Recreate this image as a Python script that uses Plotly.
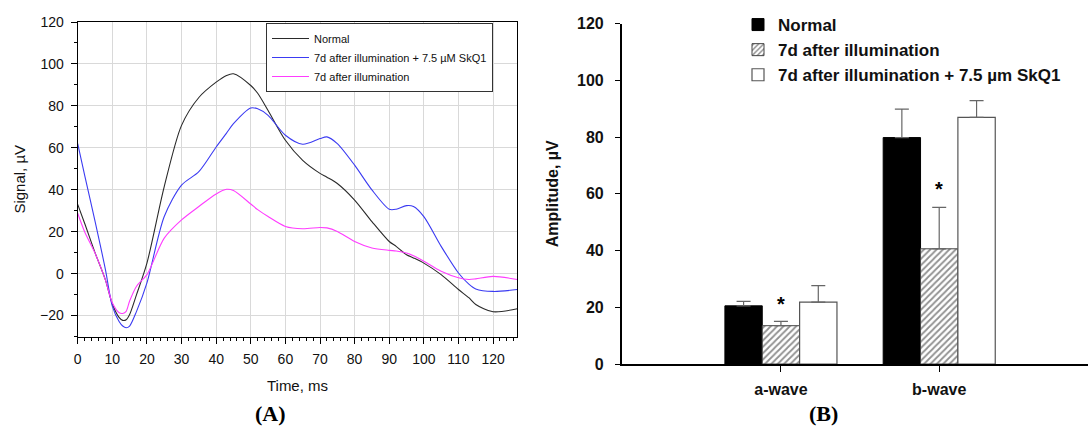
import plotly.graph_objects as go

# ---------------- Panel A data (ERG traces) ----------------
time_ms = [0, 2, 5, 8, 10, 12, 13, 14, 15, 17, 20, 25, 30, 35, 40, 43, 45, 50, 52, 55, 60, 65, 70, 72, 75,
           80, 85, 90, 92, 95, 97, 100, 105, 110, 113, 115, 120, 127]
normal_uv = [33, 24, 10, -3, -14.5, -21, -22.3, -22, -19.5, -10, 5, 41.5, 70.7, 84, 91.3, 94.5, 95.3, 89.7, 86,
             77.8, 63.6, 54, 47.8, 46, 43, 35.1, 24.8, 15.3, 13, 9, 7.5, 5, -0.5, -7.6, -11.5, -14.7, -18.2, -16.8]
skq1_uv = [62, 47, 25, 2, -15.5, -23, -25, -25.8, -25, -18, -4.4, 27.2, 42.2, 48.6, 60.4, 67, 71.5, 79, 78.6,
           75.5, 66, 61.7, 64.4, 65.2, 62, 51.7, 39.9, 30.7, 30.7, 32.4, 32, 27.2, 13, 0.3, -5, -7.3, -8.5, -7.6]
illum_uv = [28.8, 20, 9.8, -3, -13.9, -18.7, -19, -18, -13.1, -6, -0.5, 16.9, 25.6, 32, 38, 40.2, 39.6, 33.2,
            30.5, 27.2, 22.5, 21.4, 22, 21.8, 20.1, 15.3, 12.2, 11.1, 10.8, 9.8, 8.5, 5.9, 1.1, -2, -2.8, -2.5,
            -1.3, -2.8]
trace_names = ["Normal", "7d after illumination + 7.5 \u00b5M SkQ1", "7d after illumination"]

# ---------------- Panel B data (amplitudes) ----------------
wave_labels = ["a-wave", "b-wave"]
wave_pos = [0, 1]
normal_amp = [20.5, 79.8]
normal_err = [1.6, 10.0]
illum_amp = [13.5, 40.6]
illum_err = [1.5, 14.6]
skq1_amp = [21.8, 86.9]
skq1_err = [5.8, 5.9]
bar_names = ["Normal", "7d after illumination", "7d after illumination + 7.5 \u00b5m SkQ1"]
star_y = [21.2, 61.6]

W, H = 1088, 428
fig = go.Figure()

line_colors = ["#2a2a2a", "#3b3bf2", "#ff3cff"]
for vals, name, col in zip([normal_uv, skq1_uv, illum_uv], trace_names, line_colors):
    fig.add_trace(go.Scatter(x=time_ms, y=vals, mode="lines", name=name,
                             line=dict(color=col, width=1.1, shape="spline", smoothing=0.8),
                             xaxis="x", yaxis="y", legend="legend"))

bar_w = 0.236
fig.add_trace(go.Bar(x=wave_pos, y=normal_amp, name=bar_names[0], width=bar_w, offset=-1.5 * bar_w,
                     marker=dict(color="black", line=dict(color="black", width=1)),
                     error_y=dict(type="data", array=normal_err, arrayminus=[0, 0], symmetric=False,
                                  color="#666", thickness=1.2, width=7),
                     xaxis="x2", yaxis="y2", legend="legend2"))
fig.add_trace(go.Bar(x=wave_pos, y=illum_amp, name=bar_names[1], width=bar_w, offset=-0.5 * bar_w,
                     marker=dict(color="white", line=dict(color="#444", width=1),
                                 pattern=dict(shape="/", fgcolor="#222", bgcolor="white", size=4.5, solidity=0.4)),
                     error_y=dict(type="data", array=illum_err, arrayminus=[0, 0], symmetric=False,
                                  color="#666", thickness=1.2, width=7),
                     xaxis="x2", yaxis="y2", legend="legend2"))
fig.add_trace(go.Bar(x=wave_pos, y=skq1_amp, name=bar_names[2], width=bar_w, offset=0.5 * bar_w,
                     marker=dict(color="white", line=dict(color="#555", width=1.2)),
                     error_y=dict(type="data", array=skq1_err, arrayminus=[0, 0], symmetric=False,
                                  color="#666", thickness=1.2, width=7),
                     xaxis="x2", yaxis="y2", legend="legend2"))

for xp, yv in zip(wave_pos, star_y):
    fig.add_annotation(x=xp, y=yv, xref="x2", yref="y2", text="*", showarrow=False,
                       font=dict(family="Liberation Sans, Arial", size=20, color="black", weight="bold"),
                       yanchor="middle")

fig.add_annotation(x=270 / W, y=1 - 413 / H, xref="paper", yref="paper", text="(<b>A</b>)", showarrow=False,
                   font=dict(family="Liberation Serif, Times New Roman", size=22, color="black", weight="bold"),
                   xanchor="center", yanchor="middle")
fig.add_annotation(x=823 / W, y=1 - 413 / H, xref="paper", yref="paper", text="(<b>B</b>)", showarrow=False,
                   font=dict(family="Liberation Serif, Times New Roman", size=22, color="black", weight="bold"),
                   xanchor="center", yanchor="middle")

fA = dict(family="Liberation Sans, Arial", size=14, color="#111")
fAt = dict(family="Liberation Sans, Arial", size=15, color="#111")
fB = dict(family="Liberation Sans, Arial", size=16, color="#111", weight="bold")

fig.update_layout(
    width=W, height=H, margin=dict(l=0, r=0, t=0, b=0, autoexpand=False),
    paper_bgcolor="white", plot_bgcolor="white",
    showlegend=True, barmode="overlay",
    xaxis=dict(domain=[77.7 / W, 517.3 / W], range=[0, 127], dtick=10, tick0=0,
               showgrid=True, gridcolor="#d9d9d9", gridwidth=1, zeroline=False,
               showline=True, linecolor="black", linewidth=1.2, mirror=True,
               ticks="outside", ticklen=6, tickcolor="black", tickfont=fA, ticklabelstandoff=4,
               minor=dict(dtick=2, ticks="outside", ticklen=3, tickcolor="black", showgrid=False),
               title=dict(text="Time, ms", font=fAt, standoff=14),
               anchor="y"),
    yaxis=dict(domain=[1 - 336.5 / H, 1 - 22 / H], range=[-30, 120], dtick=20, tick0=0,
               showgrid=True, gridcolor="#d9d9d9", gridwidth=1, zeroline=False,
               showline=True, linecolor="black", linewidth=1.2, mirror=True,
               ticks="outside", ticklen=6, tickcolor="black", tickfont=fA, ticklabelstandoff=4,
               minor=dict(dtick=10, ticks="outside", ticklen=3, tickcolor="black", showgrid=False),
               title=dict(text="Signal, \u00b5V", font=fAt, standoff=10),
               anchor="x"),
    xaxis2=dict(domain=[621.7 / W, 1.0], range=[-1.006, 1.94], tickvals=wave_pos, ticktext=wave_labels,
                showgrid=False, zeroline=False, showline=True, linecolor="black", linewidth=1.6,
                ticks="outside", ticklen=6, tickcolor="black", tickwidth=1.4, tickfont=fB,
                ticklabelstandoff=4, anchor="y2"),
    yaxis2=dict(domain=[1 - 364 / H, 1 - 23.5 / H], range=[0, 120], dtick=20, tick0=0,
                showgrid=False, zeroline=False, showline=True, linecolor="black", linewidth=1.6,
                ticks="outside", ticklen=5, tickcolor="black", tickwidth=1.4, tickfont=fB,
                ticklabelstandoff=8,
                title=dict(text="Amplitude, \u00b5V", font=fB, standoff=14),
                anchor="x2"),
    legend=dict(x=266 / W, y=1 - 23 / H, xanchor="left", yanchor="top", bgcolor="white",
                bordercolor="#333", borderwidth=1, font=dict(family="Liberation Sans, Arial", size=11, color="#111"),
                itemwidth=37, tracegroupgap=0),
    legend2=dict(x=738 / W, y=1 - 7 / H, xanchor="left", yanchor="top", bgcolor="rgba(0,0,0,0)",
                 borderwidth=0, font=dict(family="Liberation Sans, Arial", size=17, color="#111", weight="bold"),
                 itemwidth=30, tracegroupgap=0),
)

fig.write_html("out.html", config={"displayModeBar": False},
               post_script="document.body.style.margin='0';document.body.style.overflow='hidden';")
